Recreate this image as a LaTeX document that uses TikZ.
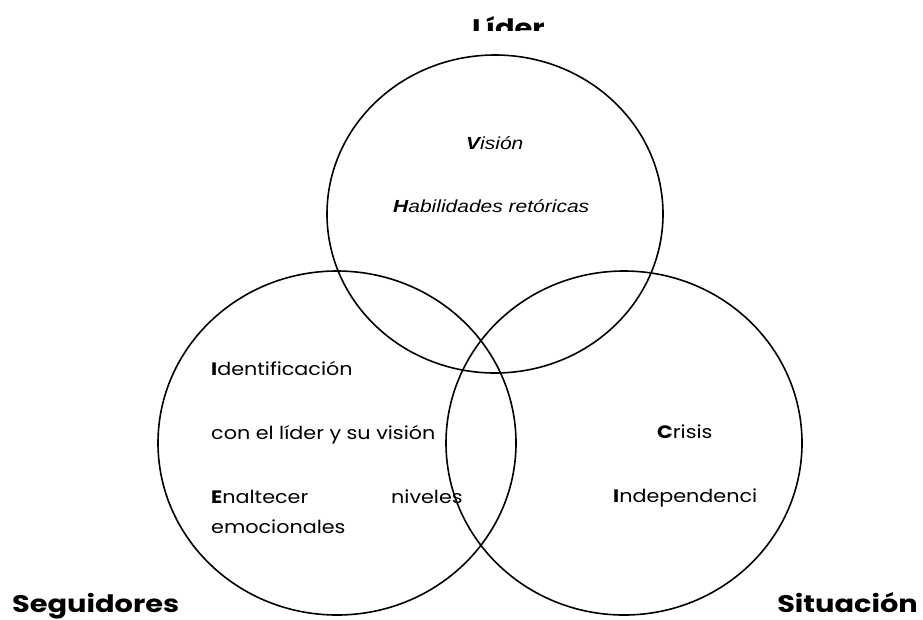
\documentclass[tikz,border=0pt]{standalone}
\usepackage{fontspec}
\setmainfont{Poppins}
\newfontfamily\arialf[FakeStretch=1.2]{Liberation Sans}
\newfontfamily\gothic[FakeStretch=1.15]{Poppins}
\newfontfamily\gothicttl[FakeStretch=1.2]{Poppins}
\tikzset{
  ring/.style={draw=black, line width=1.6pt},
  body/.style={anchor=base west, inner sep=0pt, font=\gothic\fontsize{18}{21}\selectfont},
  ital/.style={anchor=base west, inner sep=0pt, font=\arialf\itshape\fontsize{17.5}{20}\selectfont},
  ttl/.style={anchor=base west, inner sep=0pt, font=\gothicttl\bfseries\fontsize{24}{28}\selectfont},
}
\begin{document}
\begin{tikzpicture}[x=1pt,y=-1pt]
\useasboundingbox (0,0) rectangle (923,619);
\fill[white] (0,0) rectangle (923,619);
% circles
\draw[ring] (495,214) ellipse [x radius=168, y radius=159];
\draw[ring] (337,443) ellipse [x radius=179, y radius=172];
\draw[ring] (624,443) ellipse [x radius=178, y radius=172];
% titles
\begin{scope}
\clip (0,0) rectangle (923,30);
\node[ttl] (lider) at (472,36) {Líder};
\end{scope}
\node[ttl] (seg) at (12,612) {Seguidores};
\node[ttl, anchor=base east] (sit) at (918,612) {Situación};
% leader texts
\node[ital] (vis) at (466,149) {\textbf{V}isión};
\node[ital] (hab) at (393,212) {\textbf{H}abilidades retóricas};
% follower texts
\node[body] (ide) at (211,375) {\textbf{I}dentificación};
\node[body] (con) at (211,439) {con el líder y su visión};
\node[body] (ena) at (211,503) {\textbf{E}naltecer};
\node[body] (niv) at (391,503) {niveles};
\node[body] (emo) at (211,533) {emocionales};
% situation texts
\node[body] (cri) at (657,438) {\textbf{C}risis};
\node[body] (ind) at (613,502) {\textbf{I}ndependenci};
\end{tikzpicture}
\end{document}
